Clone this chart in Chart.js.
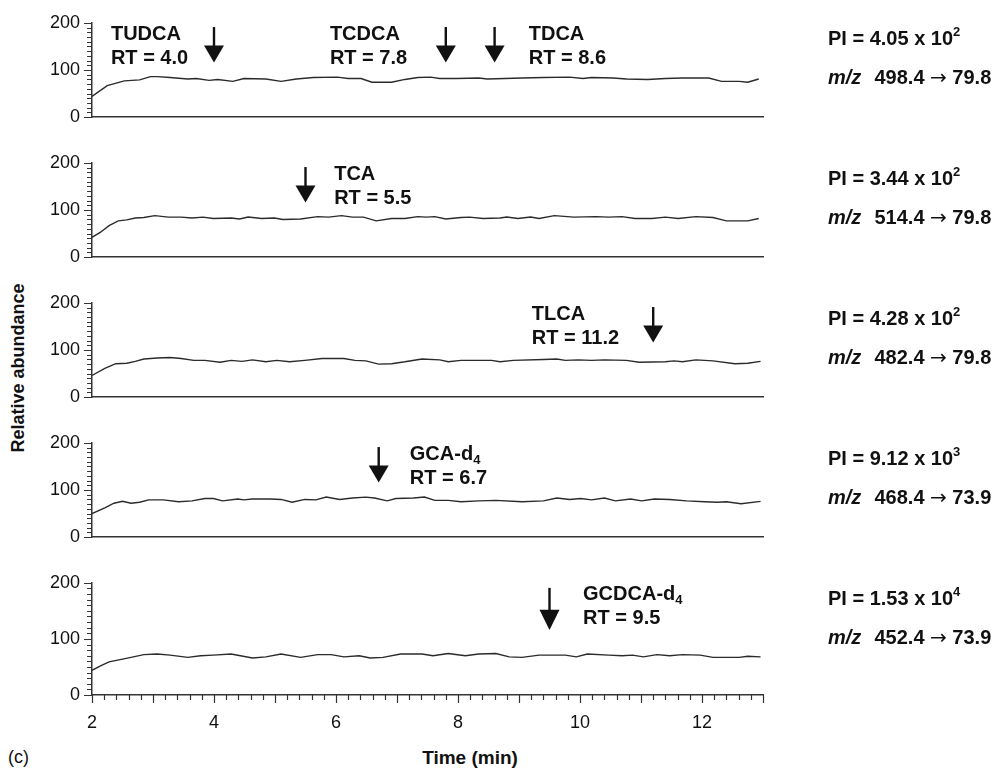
<!DOCTYPE html>
<html>
<head>
<meta charset="utf-8">
<script src="https://cdn.jsdelivr.net/npm/chart.js@4.4.1/dist/chart.umd.min.js"></script>
<style>
  html, body { margin: 0; padding: 0; background: #fff; }
  #page { position: relative; width: 1002px; height: 771px; overflow: hidden; font-family: "Liberation Sans", Arial, sans-serif; color: #111; }
  canvas { position: absolute; left: 0; }
  .txt { position: absolute; white-space: nowrap; line-height: 1; }
</style>
</head>
<body>
<div id="page">
  <div class="txt" id="ylab" style="font-weight:bold;font-size:18px;left:18px;top:368px;transform:translate(-50%,-50%) rotate(-90deg);">Relative abundance</div>
  <div class="txt" style="font-weight:bold;font-size:19px;left:470px;top:757px;transform:translate(-50%,-50%);">Time (min)</div>
  <div class="txt" style="font-size:18px;left:8px;top:757px;transform:translateY(-50%);">(c)</div>
</div>
<script>
// retention time axis (min) and relative abundance traces, one pair per MRM channel
const time1 = [2.00,2.25,2.53,2.78,2.96,3.07,3.28,3.57,3.71,3.92,4.06,4.31,4.49,4.85,5.10,5.35,5.63,6.02,6.20,6.41,6.59,6.91,7.13,7.34,7.55,7.70,7.98,8.34,8.48,9.05,9.40,9.83,10.05,10.19,10.54,10.76,11.11,11.40,11.68,12.11,12.32,12.61,12.75,12.93];
const abund1 = [44,67,77,79,86,86,84,81,82,78,80,76,82,81,76,81,84,85,82,82,74,74,80,84,85,82,82,83,81,83,84,85,82,84,83,81,80,82,83,83,76,76,74,81];

const time2 = [2.00,2.14,2.28,2.43,2.57,2.71,2.85,3.03,3.25,3.46,3.64,3.82,3.99,4.28,4.42,4.56,4.78,4.99,5.13,5.42,5.70,5.88,6.09,6.27,6.45,6.66,6.91,7.13,7.34,7.48,7.62,7.80,8.05,8.19,8.41,8.69,8.80,8.98,9.19,9.33,9.58,9.90,10.26,10.47,10.69,10.90,11.18,11.40,11.61,11.90,12.18,12.40,12.75,12.93];
const abund2 = [42,53,67,77,79,83,84,88,85,85,83,85,82,83,81,85,82,83,80,81,86,85,88,85,85,77,82,82,86,85,86,81,84,85,82,83,85,82,85,82,88,85,86,85,86,82,82,85,82,86,84,77,77,82];

const time3 = [2.00,2.21,2.39,2.57,2.71,2.85,3.07,3.28,3.46,3.67,3.85,4.10,4.28,4.46,4.63,4.85,5.03,5.24,5.49,5.77,6.13,6.31,6.49,6.70,6.91,7.13,7.41,7.70,7.84,8.05,8.55,8.69,8.91,9.40,9.62,9.76,9.97,10.19,10.40,10.76,10.97,11.40,11.54,11.68,11.90,12.18,12.54,12.75,12.96];
const abund3 = [46,61,71,72,76,81,83,84,82,78,78,74,78,76,79,75,78,75,78,82,82,78,77,70,71,75,81,79,75,78,78,75,78,80,81,78,79,78,79,78,74,75,77,75,79,77,71,72,76];

const time4 = [2.00,2.21,2.36,2.50,2.64,2.78,2.93,3.17,3.42,3.64,3.85,3.99,4.14,4.39,4.49,4.63,4.92,5.10,5.28,5.49,5.67,5.84,6.06,6.27,6.49,6.63,6.84,6.98,7.27,7.45,7.62,7.84,8.05,8.34,8.62,9.05,9.40,9.62,9.83,10.01,10.19,10.40,10.58,10.83,11.01,11.22,11.47,11.75,12.04,12.25,12.40,12.64,12.96];
const abund4 = [50,62,72,76,72,74,79,79,75,77,82,82,77,81,79,81,81,80,74,80,79,85,80,83,85,83,77,82,83,85,78,78,75,77,78,75,77,83,80,82,79,83,77,81,77,81,80,77,75,74,75,71,76];

const time5 = [2.00,2.14,2.28,2.46,2.64,2.85,3.07,3.28,3.57,3.78,3.99,4.28,4.63,4.85,5.10,5.42,5.70,5.92,6.13,6.38,6.56,6.77,7.06,7.41,7.59,7.84,8.12,8.34,8.62,8.84,9.05,9.33,9.76,9.94,10.12,10.47,10.69,10.86,11.04,11.26,11.47,11.68,11.97,12.18,12.61,12.75,12.96];
const abund5 = [44,52,59,63,67,72,73,71,67,70,71,73,66,68,73,67,72,72,68,70,66,67,73,73,70,74,70,73,74,68,67,71,71,68,73,71,70,71,68,72,70,72,71,67,67,69,68];

// peak annotations ("_" marks a subscript)
const compounds = [['TUDCA', 'TCDCA', 'TDCA'], ['TCA'], ['TLCA'], ['GCA-d_4'], ['GCDCA-d_4']];
const retention = [[4.0, 7.8, 8.6], [5.5], [11.2], [6.7], [9.5]];

// channel info
const piMantissa = ['4.05', '3.44', '4.28', '9.12', '1.53'];
const piExponent = ['2', '2', '2', '3', '4'];
const precursorMz = ['498.4', '514.4', '482.4', '468.4', '452.4'];
const productMz = ['79.8', '79.8', '79.8', '73.9', '73.9'];

// where each label starts (min) - layout only
const labelStart = [[2.31, 5.90, 9.16], [5.97], [9.21], [7.21], [10.05]];

const times = [time1, time2, time3, time4, time5];
const abunds = [abund1, abund2, abund3, abund4, abund5];

const FONT = '"Liberation Sans", Arial, sans-serif';
const INK = '#111';
const AXIS = '#333';
const PLOT_LEFT = 92, PLOT_RIGHT = 763;

Chart.defaults.font.family = FONT;
Chart.defaults.color = INK;

function drawRich(ctx, parts, x, y) {
    let cx = x;
    parts.forEach(p => {
        ctx.font = p.font;
        ctx.fillText(p.text, cx, y + (p.dy || 0));
        cx += ctx.measureText(p.text).width + (p.gap || 0);
    });
}

const annotate = {
    id: 'annotate',
    afterDatasetsDraw(chart, args, opts) {
        const { ctx, scales: { x, y } } = chart;
        const i = opts.index;
        ctx.save();

        // y tick marks, long at 0/100/200
        ctx.strokeStyle = AXIS;
        ctx.lineWidth = 1.2;
        ctx.beginPath();
        for (let v = 0; v <= 200; v += 10) {
            const py = Math.round(y.getPixelForValue(v)) + 0.5;
            const len = v % 100 === 0 ? 8 : 5;
            ctx.moveTo(x.left - len, py);
            ctx.lineTo(x.left, py);
        }
        // x tick marks on the bottom panel
        if (opts.bottom) {
            for (let k = 0; k <= 55; k++) {
                const px = Math.round(x.getPixelForValue(2 + k * 0.2)) + 0.5;
                const len = k % 5 === 0 ? 8 : 5;
                ctx.moveTo(px, y.bottom);
                ctx.lineTo(px, y.bottom + len);
            }
        }
        ctx.stroke();

        // arrows
        ctx.fillStyle = INK;
        ctx.strokeStyle = INK;
        retention[i].forEach(rt => {
            const px = x.getPixelForValue(rt);
            const top = y.getPixelForValue(191);
            const neck = y.getPixelForValue(152);
            const tip = y.getPixelForValue(116);
            ctx.lineWidth = 2.4;
            ctx.beginPath();
            ctx.moveTo(px, top);
            ctx.lineTo(px, neck + 1);
            ctx.stroke();
            ctx.beginPath();
            ctx.moveTo(px - 10, neck);
            ctx.lineTo(px + 10, neck);
            ctx.lineTo(px, tip);
            ctx.closePath();
            ctx.fill();
        });

        // compound labels
        ctx.textBaseline = 'middle';
        ctx.textAlign = 'left';
        compounds[i].forEach((name, j) => {
            const lx = x.getPixelForValue(labelStart[i][j]);
            const [base, sub] = name.split('_');
            const parts = [{ text: base, font: `bold 20px ${FONT}` }];
            if (sub) parts.push({ text: sub, font: `bold 13px ${FONT}`, dy: 6 });
            drawRich(ctx, parts, lx, y.top + 12);
            drawRich(ctx, [{ text: `RT = ${retention[i][j].toFixed(1)}`, font: `bold 20px ${FONT}` }], lx, y.top + 36);
        });

        // channel info on the right
        const rx = 828;
        drawRich(ctx, [
            { text: `PI = ${piMantissa[i]} x 10`, font: `bold 20px ${FONT}` },
            { text: piExponent[i], font: `bold 13px ${FONT}`, dy: -7 },
        ], rx, y.top + 17);
        drawRich(ctx, [
            { text: 'm/z', font: `italic bold 20px ${FONT}`, gap: 2 },
            { text: `  ${precursorMz[i]} `, font: `bold 20px ${FONT}` },
            { text: '\u2192', font: `20px "DejaVu Sans", sans-serif` },
            { text: ` ${productMz[i]}`, font: `bold 20px ${FONT}` },
        ], rx, y.top + 56);

        ctx.restore();
    },
};

const page = document.getElementById('page');
const PANEL_TOP = 20, PANEL_STEP = 140, PANEL_H = 115;

times.forEach((t, i) => {
    const bottom = i === times.length - 1;
    const canvas = document.createElement('canvas');
    const top = PANEL_TOP + i * PANEL_STEP - 20;
    const height = bottom ? 771 - top : PANEL_STEP;
    canvas.width = 1002;
    canvas.height = height;
    canvas.style.top = top + 'px';
    canvas.style.width = '1002px';
    canvas.style.height = height + 'px';
    page.appendChild(canvas);

    const xAxisH = bottom ? 40 : 0;

    new Chart(canvas.getContext('2d'), {
        type: 'line',
        data: {
            datasets: [{
                data: t.map((tx, k) => ({ x: tx, y: abunds[i][k] })),
                borderColor: '#2b2b2b',
                borderWidth: 1.4,
                pointRadius: 0,
                tension: 0,
                fill: false,
            }],
        },
        options: {
            responsive: false,
            animation: false,
            devicePixelRatio: 1,
            layout: {
                padding: { top: 20, left: 0, right: 1002 - PLOT_RIGHT, bottom: height - 20 - PANEL_H - xAxisH },
            },
            scales: {
                x: {
                    type: 'linear',
                    min: 2,
                    max: 13,
                    afterFit: (scale) => { scale.height = xAxisH; },
                    grid: { display: false, drawTicks: false },
                    border: { display: true, color: AXIS, width: 1.5 },
                    ticks: {
                        display: bottom,
                        stepSize: 0.2,
                        autoSkip: false,
                        maxRotation: 0,
                        padding: 17,
                        font: { size: 18 },
                        color: INK,
                        callback: (v) => {
                            const r = Math.round(v);
                            return Math.abs(v - r) < 1e-6 && r % 2 === 0 ? String(r) : '';
                        },
                    },
                },
                y: {
                    min: 0,
                    max: 200,
                    afterFit: (scale) => { scale.width = PLOT_LEFT; },
                    grid: { display: false, drawTicks: false },
                    border: { display: true, color: AXIS, width: 1.5 },
                    ticks: {
                        stepSize: 10,
                        autoSkip: false,
                        padding: 12,
                        font: { size: 18 },
                        color: INK,
                        callback: (v) => (v % 100 === 0 ? String(v) : ''),
                    },
                },
            },
            plugins: {
                legend: { display: false },
                tooltip: { enabled: false },
                annotate: { index: i, bottom },
            },
        },
        plugins: [annotate],
    });
});
</script>
</body>
</html>
